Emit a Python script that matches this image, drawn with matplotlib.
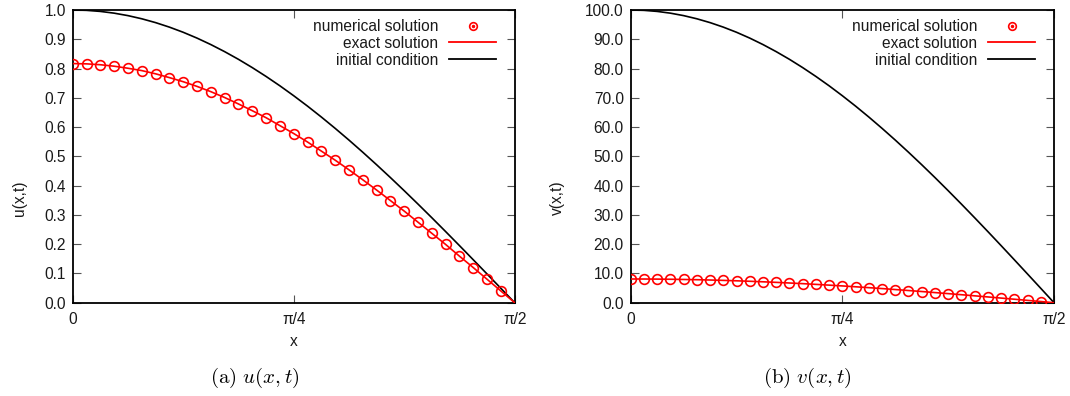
import numpy as np
import matplotlib
matplotlib.use("Agg")
import matplotlib.pyplot as plt
from matplotlib.lines import Line2D

# ---- data ----
# grid: x_i = i * (pi/2) / 32, i = 0..32
n_intervals = 32
x_grid = np.arange(n_intervals + 1) * (np.pi / 2) / n_intervals

u_initial = [1.0000, 0.9988, 0.9952, 0.9892, 0.9808, 0.9700, 0.9569, 0.9415,
             0.9239, 0.9040, 0.8819, 0.8577, 0.8315, 0.8032, 0.7730, 0.7410,
             0.7071, 0.6716, 0.6344, 0.5957, 0.5556, 0.5141, 0.4714, 0.4276,
             0.3827, 0.3369, 0.2903, 0.2430, 0.1951, 0.1467, 0.0980, 0.0491, 0.0]
u_exact = [0.817, 0.816, 0.813, 0.808, 0.801, 0.793, 0.782, 0.769,
           0.755, 0.739, 0.721, 0.701, 0.679, 0.656, 0.632, 0.605,
           0.578, 0.549, 0.518, 0.487, 0.454, 0.420, 0.385, 0.349,
           0.313, 0.275, 0.237, 0.199, 0.159, 0.120, 0.080, 0.040, 0.0]
u_numerical = u_exact[:32]

v_initial = [100.0, 99.88, 99.52, 98.92, 98.08, 97.00, 95.69, 94.15,
             92.39, 90.40, 88.19, 85.77, 83.15, 80.32, 77.30, 74.10,
             70.71, 67.16, 63.44, 59.57, 55.56, 51.41, 47.14, 42.76,
             38.27, 33.69, 29.03, 24.30, 19.51, 14.67, 9.80, 4.91, 0.0]
v_exact = [8.10, 8.09, 8.06, 8.01, 7.94, 7.86, 7.75, 7.63,
           7.48, 7.32, 7.14, 6.95, 6.73, 6.51, 6.26, 6.00,
           5.73, 5.44, 5.14, 4.83, 4.50, 4.16, 3.82, 3.46,
           3.10, 2.73, 2.35, 1.97, 1.58, 1.19, 0.79, 0.40, 0.0]
v_numerical = v_exact[:32]

x_tick_vals = [0, np.pi / 4, np.pi / 2]
x_tick_labels = ["0", "π/4", "π/2"]
u_ticks = [0.0, 0.1, 0.2, 0.3, 0.4, 0.5, 0.6, 0.7, 0.8, 0.9, 1.0]
v_ticks = [0, 10, 20, 30, 40, 50, 60, 70, 80, 90, 100]

legend_labels = ["numerical solution", "exact solution", "initial condition"]

# ---- style ----
plt.rcParams['font.family'] = ['Liberation Sans', 'DejaVu Sans']
plt.rcParams['mathtext.fontset'] = 'cm'
W, H = 1070, 396
fig = plt.figure(figsize=(W / 100, H / 100), dpi=100)

RED = "#ff0000"
FS = 11.2
TXT = "#1a1a1a"


def px_rect(x0, x1, y0, y1):
    return [x0 / W, 1 - y1 / H, (x1 - x0) / W, (y1 - y0) / H]


def make_panel(rect, initial, exact, numerical, yticks, yfmt, ylabel,
               ylabel_x, leg_right, caption, cap_x):
    ax = fig.add_axes(rect)
    xn = x_grid[:len(numerical)]
    ax.plot(x_grid, initial, color="black", lw=1.2, zorder=2)
    ax.plot(x_grid, exact, color=RED, lw=1.2, zorder=3)
    ax.plot(xn, numerical, ls="none", marker="o", ms=7.0, mfc="none",
            mec=RED, mew=1.2, zorder=4)
    ax.set_xlim(0, np.pi / 2)
    ax.set_ylim(yticks[0], yticks[-1])
    ax.set_xticks(x_tick_vals)
    ax.set_xticklabels(x_tick_labels)
    ax.set_yticks(yticks)
    ax.set_yticklabels([yfmt.format(v) for v in yticks])
    ax.tick_params(direction="in", length=6, width=0.8, color="#555555",
                   labelsize=FS, top=True, right=True, labelcolor=TXT)
    ax.tick_params(axis="y", pad=5.0)
    ax.tick_params(axis="x", pad=7.0)
    for s in ax.spines.values():
        s.set_linewidth(1.3)
    ax.set_xlabel("x", fontsize=FS, labelpad=5, color=TXT)
    ax.set_ylabel(ylabel, fontsize=FS, color=TXT)
    ax.yaxis.set_label_coords(ylabel_x, 0.5, transform=fig.transFigure)
    ax.yaxis.label.set_verticalalignment("center")

    # legend
    h_num = (Line2D([], [], ls="none", marker="o", ms=5.5, mfc="none",
                    mec=RED, mew=1.2),
             Line2D([], [], ls="none", marker="o", ms=1.5, mfc=RED, mec=RED))
    h_ex = Line2D([], [], color=RED, lw=1.3)
    h_ic = Line2D([], [], color="black", lw=1.3)
    leg = ax.legend([h_num, h_ex, h_ic], legend_labels, loc="upper right",
                    bbox_to_anchor=(leg_right / W, 1 - 19 / H),
                    bbox_transform=fig.transFigure, frameon=False,
                    markerfirst=False, fontsize=FS, handlelength=3.0,
                    handletextpad=0.7, labelspacing=0.12, borderpad=0,
                    borderaxespad=0)
    for t in leg.get_texts():
        t.set_color(TXT)
    fig.text(cap_x / W, 1 - 378 / H, caption, ha="center", va="center",
             fontsize=15)
    return ax


make_panel(px_rect(72.7, 514.7, 10, 302.7), u_initial, u_exact, u_numerical,
           u_ticks, "{:.1f}", "u(x,t)", 20 / W, 496,
           r"$\mathrm{(a)}\ u(x,t)$", 255)
make_panel(px_rect(630.7, 1054, 10, 302.7), v_initial, v_exact, v_numerical,
           v_ticks, "{:.1f}", "v(x,t)", 557 / W, 1035,
           r"$\mathrm{(b)}\ v(x,t)$", 807)

fig.savefig("out.png", dpi=100)
